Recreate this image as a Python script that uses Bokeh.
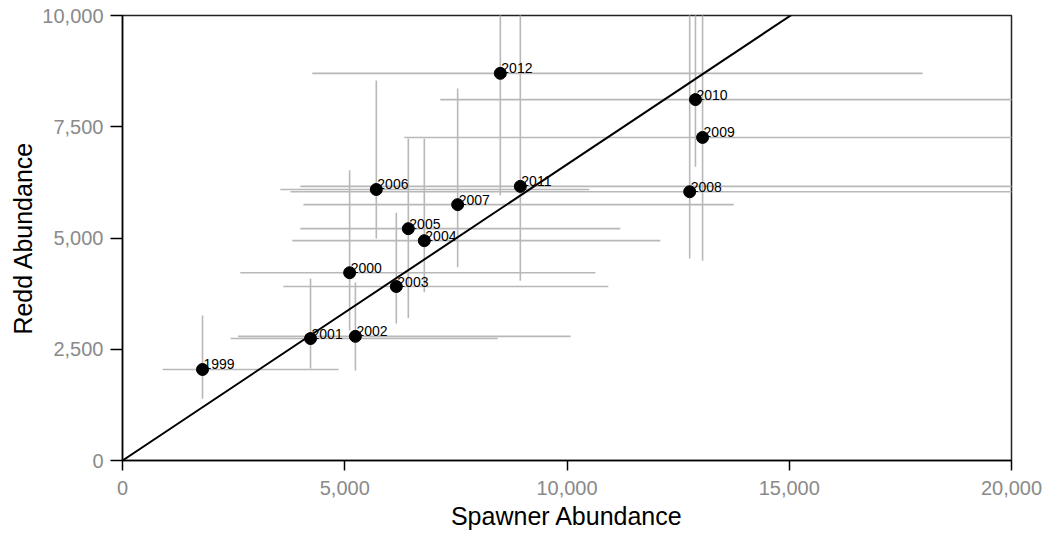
from bokeh.plotting import figure
from bokeh.models import ColumnDataSource, NumeralTickFormatter, FixedTicker, Range1d
from bokeh.core.properties import value
from bokeh.embed import file_html
from bokeh.resources import INLINE

years = ["1999", "2000", "2001", "2002", "2003", "2004", "2005", "2006",
         "2007", "2008", "2009", "2010", "2011", "2012"]
spawners = [1800, 5110, 4230, 5240, 6160, 6790, 6430, 5710, 7540, 12760, 13050, 12890, 8950, 8500]
redds = [2045, 4220, 2740, 2790, 3910, 4940, 5210, 6090, 5750, 6040, 7260, 8110, 6160, 8700]
spawner_lo = [900, 2650, 2430, 2600, 3620, 3820, 4000, 3550, 4070, 3780, 6340, 7150, 4000, 4270]
spawner_hi = [4860, 10640, 8440, 10080, 10930, 12100, 11200, 10500, 13750, 21000, 21000, 21000, 21000, 18000]
redd_lo = [1390, 2920, 2070, 2020, 3080, 3780, 3200, 4990, 4340, 4540, 4490, 6600, 4040, 5960]
redd_hi = [3260, 6520, 4090, 4000, 5570, 7230, 7230, 8540, 8360, 10500, 10500, 10500, 10500, 10500]
slope = 0.6653
line_x = [0, 20000]
line_y = [v * slope for v in line_x]

x_ticks = [0, 5000, 10000, 15000, 20000]
y_ticks = [0, 2500, 5000, 7500, 10000]

src = ColumnDataSource(dict(year=years, x=spawners, y=redds, xlo=spawner_lo, xhi=spawner_hi,
                            ylo=redd_lo, yhi=redd_hi))

p = figure(width=1046, height=533, output_backend="svg", toolbar_location=None,
           x_range=Range1d(0, 20000), y_range=Range1d(0, 10000),
           min_border_left=122, min_border_right=35, min_border_top=15, min_border_bottom=73)
p.background_fill_color = "white"
p.border_fill_color = "white"
p.outline_line_color = "#222222"
p.outline_line_width = 1.5
p.xgrid.visible = False
p.ygrid.visible = False

p.segment(x0="xlo", y0="y", x1="xhi", y1="y", source=src, line_color="#b8b8b8", line_width=1.6)
p.segment(x0="x", y0="ylo", x1="x", y1="yhi", source=src, line_color="#b8b8b8", line_width=1.6)
p.line(line_x, line_y, line_color="black", line_width=2)
p.scatter(x="x", y="y", source=src, size=12, fill_color="black", line_color="black")
p.text(x="x", y="y", text="year", source=src, x_offset=1, y_offset=-5,
       text_font_size="14px", text_baseline="middle", text_align="left",
       text_color="black", text_font=value("Liberation Sans"))

for ax in (p.xaxis[0], p.yaxis[0]):
    ax.formatter = NumeralTickFormatter(format="0,0")
    ax.major_label_text_color = "#8a8a8a"
    ax.major_label_text_font = "Liberation Sans"
    ax.major_label_text_font_size = "20px"
    ax.axis_label_text_font = "Liberation Sans"
    ax.axis_label_text_font_size = "25px"
    ax.axis_label_text_font_style = "normal"
    ax.axis_label_text_color = "black"
    ax.axis_line_color = "black"
    ax.axis_line_width = 1.5
    ax.major_tick_line_color = "black"
    ax.major_tick_line_width = 1.5
    ax.major_tick_in = 0
    ax.minor_tick_line_color = None

p.xaxis.major_tick_out = 10
p.yaxis.major_tick_out = 12
p.xaxis.ticker = FixedTicker(ticks=x_ticks)
p.yaxis.ticker = FixedTicker(ticks=y_ticks)
p.xaxis.axis_label = "Spawner Abundance"
p.yaxis.axis_label = "Redd Abundance"
p.xaxis.major_label_standoff = 10
p.yaxis.major_label_standoff = 7
p.xaxis.axis_label_standoff = 4
p.yaxis.axis_label_standoff = 2

open("out.html", "w").write(file_html(p, INLINE))
